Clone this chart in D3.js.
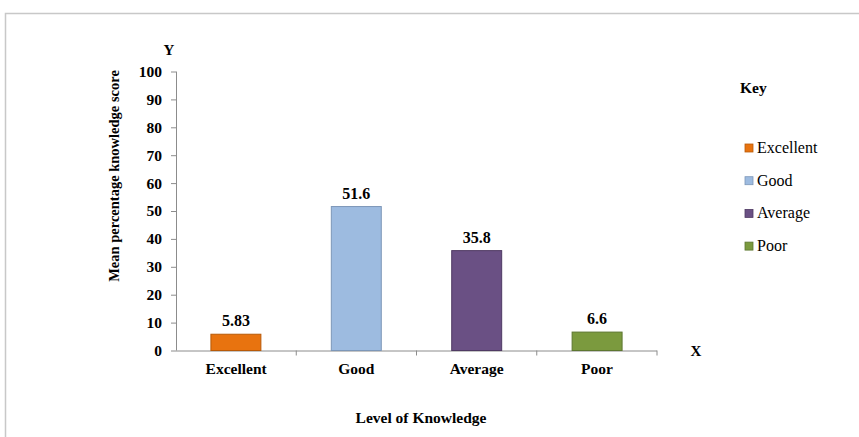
<!DOCTYPE html>
<html>
<head>
<meta charset="utf-8">
<script src="https://cdn.jsdelivr.net/npm/d3@7"></script>
<style>
  body { margin: 0; background: #fff; }
  svg text { font-family: "Liberation Serif", "Times New Roman", serif; }
  .axis path, .axis line { stroke: #8c8c8c; }
  .axis text { font-size: 15.5px; font-weight: bold; fill: #000; }
</style>
</head>
<body>
<div id="chart"></div>
<script>
// chart data
var categories = ["Excellent", "Good", "Average", "Poor"];
var values = [5.83, 51.6, 35.8, 6.6];
var valueLabels = ["5.83", "51.6", "35.8", "6.6"];
var colors = ["#e8730f", "#9dbbe0", "#6a5084", "#7b9a3e"];
var strokes = ["#b85a08", "#7d97b8", "#4f3a63", "#5d7630"];
var yTicks = [0, 10, 20, 30, 40, 50, 60, 70, 80, 90, 100];

var W = 859, H = 437;
var margin = {top: 71.5, left: 176, bottom: H - 350.5, right: W - 657};
var width = W - margin.left - margin.right;
var height = H - margin.top - margin.bottom;

var svg = d3.select("#chart").append("svg")
  .attr("width", W)
  .attr("height", H);

// outer frame
svg.append("path")
  .attr("d", "M5.5," + H + "V13.5H" + W)
  .attr("fill", "none")
  .attr("stroke", "#c8c8c8")
  .attr("stroke-width", 1.5);

var g = svg.append("g")
  .attr("transform", "translate(" + margin.left + "," + margin.top + ")");

var x = d3.scaleBand()
  .domain(categories)
  .range([0, width])
  .paddingInner(0.585)
  .paddingOuter(0.29);

var xTick = d3.scaleBand().domain(categories).range([0, width]);

var y = d3.scaleLinear()
  .domain([0, 100])
  .range([height, 0]);

// y axis
g.append("g")
  .attr("class", "y axis")
  .call(d3.axisLeft(y).tickValues(yTicks).tickSize(5).tickSizeOuter(0).tickPadding(9))
  .call(function (a) { a.select(".domain").attr("d", "M0.5," + height + "V0"); });

// x axis with category dividers
var xa = g.append("g")
  .attr("class", "x axis")
  .attr("transform", "translate(0," + height + ")");
xa.append("line")
  .attr("x1", 0).attr("x2", width)
  .attr("y1", 0.5).attr("y2", 0.5)
  .attr("stroke", "#8c8c8c");
xa.selectAll(".div")
  .data(categories)
  .enter().append("line")
  .attr("x1", function (d) { return xTick(d) + xTick.bandwidth(); })
  .attr("x2", function (d) { return xTick(d) + xTick.bandwidth(); })
  .attr("y1", 0).attr("y2", 5)
  .attr("stroke", "#8c8c8c");
xa.selectAll(".lbl")
  .data(categories)
  .enter().append("text")
  .attr("x", function (d) { return xTick(d) + xTick.bandwidth() / 2; })
  .attr("y", 23)
  .attr("text-anchor", "middle")
  .text(function (d) { return d; });

// bars
g.selectAll(".bar")
  .data(values)
  .enter().append("rect")
  .attr("class", "bar")
  .attr("x", function (d, i) { return x(categories[i]); })
  .attr("y", function (d) { return y(d); })
  .attr("width", x.bandwidth())
  .attr("height", function (d) { return height - y(d); })
  .attr("fill", function (d, i) { return colors[i]; })
  .attr("stroke", function (d, i) { return strokes[i]; })
  .attr("stroke-width", 1);

// value labels
g.selectAll(".val")
  .data(values)
  .enter().append("text")
  .attr("x", function (d, i) { return x(categories[i]) + x.bandwidth() / 2; })
  .attr("y", function (d) { return y(d) - 8; })
  .attr("text-anchor", "middle")
  .style("font-size", "16px")
  .style("font-weight", "bold")
  .text(function (d, i) { return valueLabels[i]; });

// axis letters
svg.append("text")
  .attr("x", 169).attr("y", 55)
  .attr("text-anchor", "middle")
  .style("font-size", "15px").style("font-weight", "bold")
  .text("Y");
svg.append("text")
  .attr("x", 696).attr("y", 356)
  .attr("text-anchor", "middle")
  .style("font-size", "15px").style("font-weight", "bold")
  .text("X");

// axis titles
svg.append("text")
  .attr("transform", "translate(119,176) rotate(-90)")
  .attr("text-anchor", "middle")
  .style("font-size", "14.5px").style("font-weight", "bold")
  .text("Mean percentage knowledge score");
svg.append("text")
  .attr("x", 421).attr("y", 423)
  .attr("text-anchor", "middle")
  .style("font-size", "15.5px").style("font-weight", "bold")
  .text("Level of Knowledge");

// legend
svg.append("text")
  .attr("x", 740).attr("y", 93)
  .style("font-size", "15.5px").style("font-weight", "bold")
  .text("Key");

var legend = svg.selectAll(".leg")
  .data(categories)
  .enter().append("g")
  .attr("transform", function (d, i) { return "translate(745," + (148 + i * 32.7) + ")"; });
legend.append("rect")
  .attr("x", 0).attr("y", -4)
  .attr("width", 8).attr("height", 8)
  .attr("fill", function (d, i) { return colors[i]; })
  .attr("stroke", function (d, i) { return strokes[i]; })
  .attr("stroke-width", 0.8);
legend.append("text")
  .attr("x", 12).attr("y", 5)
  .style("font-size", "16px")
  .text(function (d) { return d; });
</script>
</body>
</html>
